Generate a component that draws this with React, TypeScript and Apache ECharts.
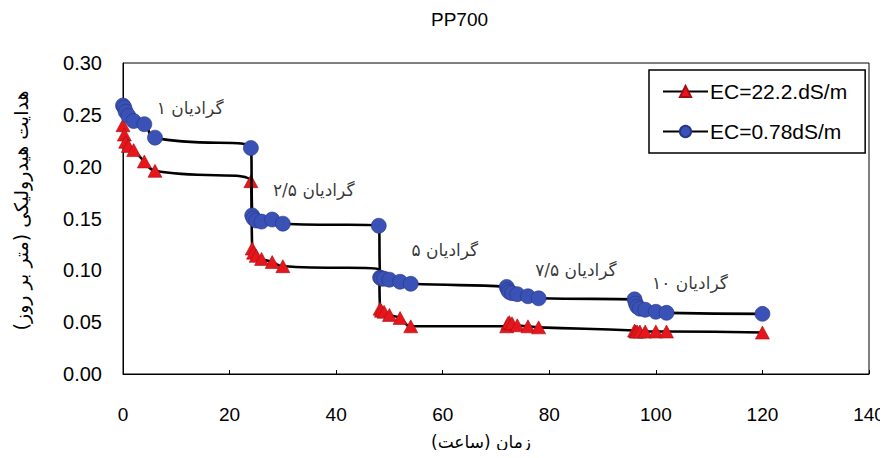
import React, { useEffect, useRef } from "react";
import * as echarts from "echarts";

const chartTitle = "PP700";
const xAxisTitle = "زمان (ساعت)\u200F";
const yAxisTitle = "هدایت هیدرولیکی (متر بر روز)\u200F";
const seriesNames = ["EC=22.2.dS/m", "EC=0.78dS/m"];

const hours = [
  0, 0.25, 0.5, 1, 2, 4, 6,
  24, 24.25, 24.5, 25, 26, 28, 30,
  48, 48.25, 48.5, 49, 50, 52, 54,
  72, 72.25, 72.5, 73, 74, 76, 78,
  96, 96.25, 96.5, 97, 98, 100, 102,
  120,
];

const ecHigh = [
  0.240, 0.231, 0.224, 0.220, 0.216, 0.205, 0.196,
  0.186, 0.121, 0.117, 0.114, 0.111, 0.108, 0.104,
  0.101, 0.063, 0.061, 0.060, 0.057, 0.054, 0.046,
  0.046, 0.049, 0.050, 0.049, 0.047, 0.046, 0.045,
  0.042, 0.041, 0.041, 0.041, 0.041, 0.041, 0.041,
  0.040,
];
// the EC=22.2 reading at 48 h is hidden behind the blue markers in the reference
const ecHighHiddenIndex = [14];

const ecLow = [
  0.259, 0.257, 0.253, 0.249, 0.244, 0.241, 0.228,
  0.218, 0.153, 0.150, 0.148, 0.147, 0.149, 0.145,
  0.143, 0.093, 0.092, 0.092, 0.091, 0.089, 0.087,
  0.084, 0.081, 0.079, 0.078, 0.077, 0.075, 0.073,
  0.072, 0.068, 0.065, 0.063, 0.062, 0.060, 0.059,
  0.058,
];

const gradientLabels = ["گرادیان ۱", "گرادیان ۲/۵", "گرادیان ۵", "گرادیان ۷/۵", "گرادیان ۱۰"];
const gradientLabelX = [12.6, 35.8, 60.4, 85.0, 106.4];
const gradientLabelY = [0.257, 0.1775, 0.1196, 0.1003, 0.0878];

const latin = "'Liberation Sans', Arial, sans-serif";
const persian = "'DejaVu Sans', sans-serif";

export default function App() {
  const ref = useRef<HTMLDivElement>(null);

  useEffect(() => {
    if (!ref.current) return;
    const chart = echarts.init(ref.current, null, { renderer: "svg" });
    const option: any = {
      animation: false,
      backgroundColor: "#fff",
      title: {
        text: chartTitle,
        left: 426,
        top: 5,
        textStyle: { fontFamily: latin, fontSize: 19, fontWeight: "normal", color: "#000" },
      },
      legend: {
        orient: "vertical",
        left: 649,
        top: 70,
        padding: [11, 18, 11, 13],
        itemWidth: 45,
        itemHeight: 14,
        itemGap: 19,
        borderColor: "#000",
        borderWidth: 1.5,
        backgroundColor: "#fff",
        data: seriesNames,
        textStyle: { fontFamily: latin, fontSize: 21, color: "#000", padding: [0, 0, 0, -3] },
      },
      grid: {
        left: 123,
        top: 63,
        right: 19,
        bottom: 84,
        show: true,
        borderColor: "#000",
        borderWidth: 1,
        backgroundColor: "transparent",
      },
      xAxis: {
        type: "value",
        min: 0,
        max: 140,
        interval: 20,
        name: xAxisTitle,
        nameLocation: "middle",
        nameGap: 59,
        nameTextStyle: { fontFamily: persian, fontSize: 17, color: "#000", padding: [0, 30, 0, 0] },
        axisLine: { lineStyle: { color: "#000", width: 1 } },
        axisTick: { show: true, inside: true, length: 4, lineStyle: { color: "#000" } },
        splitLine: { show: false },
        axisLabel: { fontFamily: latin, fontSize: 19, color: "#000", margin: 31 },
      },
      yAxis: {
        type: "value",
        min: 0,
        max: 0.3,
        interval: 0.05,
        name: yAxisTitle,
        nameLocation: "middle",
        nameGap: 93,
        nameTextStyle: { fontFamily: persian, fontSize: 19, color: "#000", padding: [0, 0, 0, 16] },
        axisLine: { show: true, lineStyle: { color: "#000", width: 1 } },
        axisTick: { show: false },
        splitLine: { show: false },
        axisLabel: {
          fontFamily: latin,
          fontSize: 20,
          color: "#000",
          margin: 21,
          formatter: (v: number) => v.toFixed(2),
        },
      },
      series: [
        {
          name: seriesNames[0],
          type: "line",
          smooth: 0.5,
          data: hours.map((h, i) =>
            ecHighHiddenIndex.includes(i)
              ? { value: [h, ecHigh[i]], symbol: "none" }
              : [h, ecHigh[i]]
          ),
          symbol: "triangle",
          symbolSize: [14, 13],
          lineStyle: { color: "#000", width: 2.6 },
          itemStyle: { color: "#e5161c", borderColor: "#a80d12", borderWidth: 0.6 },
          z: 2,
        },
        {
          name: seriesNames[1],
          type: "line",
          smooth: 0.5,
          data: hours.map((h, i) => [h, ecLow[i]]),
          symbol: "circle",
          symbolSize: 15,
          lineStyle: { color: "#000", width: 2.6 },
          itemStyle: { color: "#3a52b5", borderColor: "#25358a", borderWidth: 0.6 },
          z: 3,
        },
        {
          name: "labels",
          type: "scatter",
          symbolSize: 1,
          itemStyle: { color: "rgba(0,0,0,0)" },
          silent: true,
          z: 5,
          data: gradientLabels.map((t, i) => ({ name: t, value: [gradientLabelX[i], gradientLabelY[i]] })),
          label: {
            show: true,
            position: "inside",
            formatter: (p: any) => p.name + "\u200F",
            fontFamily: persian,
            fontSize: 17,
            color: "#000",
          },
        },
      ],
    };
    chart.setOption(option);
    return () => chart.dispose();
  }, []);

  return <div ref={ref} style={{ width: 888, height: 458, margin: -8 }} />;
}
